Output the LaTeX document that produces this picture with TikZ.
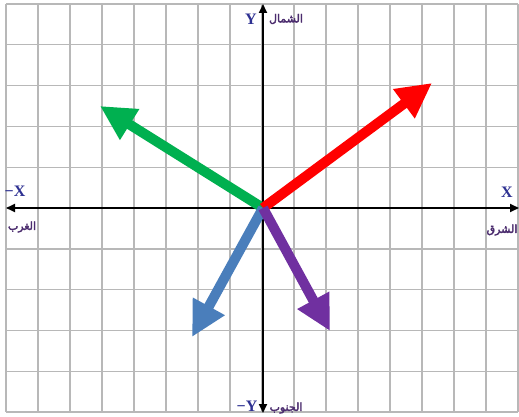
\documentclass[tikz,border=0pt]{standalone}
\usepackage{fontspec}
\setmainfont{Liberation Serif}
\newfontfamily\arabicfont[Script=Arabic, FakeBold=3]{DejaVu Sans}
\TeXXeTstate=1
\usetikzlibrary{arrows.meta}
\definecolor{gridgray}{HTML}{B8B8B8}
\definecolor{vred}{HTML}{FF0000}
\definecolor{vgreen}{HTML}{00B050}
\definecolor{vblue}{HTML}{4A7EBB}
\definecolor{vpurple}{HTML}{7030A0}
\definecolor{labblue}{HTML}{2E3192}
\definecolor{labpurple}{HTML}{4B2C6E}
\begin{document}
\begin{tikzpicture}[x=1pt,y=-1pt,
  gridline/.style={gridgray, line width=1.4pt},
  axisline/.style={black, line width=2pt, {Triangle[length=9pt,width=8pt]}-{Triangle[length=9pt,width=8pt]}},
  vec/.style={line width=10pt, -{Triangle[length=35pt,width=34pt]}},
  latlab/.style={text=labblue, font=\fontsize{16}{16}\selectfont\bfseries, inner sep=0pt},
  arlab/.style={text=labpurple, font=\arabicfont\fontsize{11}{11}\selectfont, inner sep=0pt}]
\useasboundingbox (0,0) rectangle (519,417);
\fill[white] (0,0) rectangle (519,417);
\foreach \i in {0,...,16} \draw[gridline] (6+32*\i,4) -- (6+32*\i,412);
\foreach \j in {0,...,10} \draw[gridline] (6,4+40.8*\j) -- (518,4+40.8*\j);
% axes
\coordinate (O) at (263,208);
\coordinate (E) at (519,208);
\coordinate (W) at (6,208);
\coordinate (N) at (263,4);
\coordinate (S) at (263,413);
\draw[axisline] (W) -- (E);
\draw[axisline] (S) -- (N);
% vectors
\coordinate (G) at (100,106);
\coordinate (R) at (432,83);
\coordinate (B) at (192,337);
\coordinate (P) at (330,331);
\draw[vec, vgreen] (O) -- (G);
\draw[vec, vred] (O) -- (R);
\draw[vec, vblue] (O) -- (B);
\draw[vec, vpurple] (O) -- (P);
% labels
\node[latlab] (ylab) at (251,19) {Y};
\node[latlab] (mylab) at (247,406) {−Y};
\node[latlab] (xlab) at (507,192) {X};
\node[latlab] (mxlab) at (15,191) {−X};
\node[arlab] (north) at (286,19) {\beginR الشمال\endR};
\node[arlab] (south) at (286,408) {\beginR الجنوب\endR};
\node[arlab] (west) at (22,227) {\beginR الغرب\endR};
\node[arlab] (east) at (502,230) {\beginR الشرق\endR};
\end{tikzpicture}
\end{document}
